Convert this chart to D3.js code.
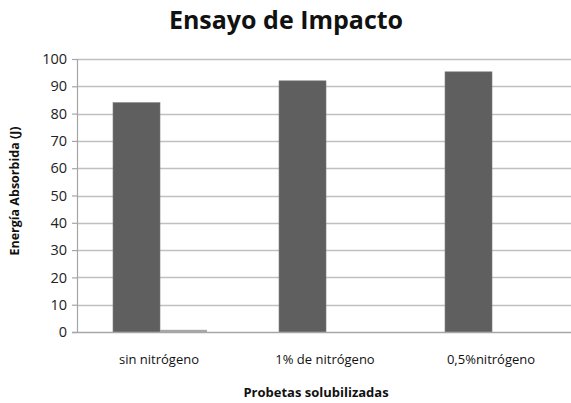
<!DOCTYPE html>
<html>
<head>
<meta charset="utf-8">
<script src="https://cdn.jsdelivr.net/npm/d3@7"></script>
<style>
  body { margin: 0; background: #fff; }
  svg { display: block; font-family: 'Open Sans', sans-serif; }
</style>
</head>
<body>
<div id="chart"></div>
<script>
const categories = ['sin nitrógeno', '1% de nitrógeno', '0,5%nitrógeno'];
const series1 = [84, 92, 95.3];
const series2 = [0.8, 0, 0];
const yTicks = [0, 10, 20, 30, 40, 50, 60, 70, 80, 90, 100];

const svgWidth = 571;
const svgHeight = 403;
const margin = { top: 59, right: -4, bottom: 71, left: 77 };
const width = svgWidth - margin.left - margin.right;
const height = svgHeight - margin.top - margin.bottom;

const svg = d3.select('#chart')
    .append('svg')
    .attr('width', svgWidth)
    .attr('height', svgHeight);

const g = svg.append('g')
    .attr('transform', 'translate(' + margin.left + ',' + margin.top + ')');

const x = d3.scaleBand()
    .domain(categories)
    .range([0, width])
    .paddingInner(0)
    .paddingOuter(0);

const groupPad = 0.217;
const x1 = d3.scaleBand()
    .domain(['s1', 's2'])
    .range([x.bandwidth() * groupPad, x.bandwidth() * (1 - groupPad)]);

const y = d3.scaleLinear()
    .domain([0, 100])
    .range([height, 0]);

// gridlines
g.selectAll('.grid')
    .data(yTicks.slice(1))
    .enter().append('line')
    .attr('class', 'grid')
    .attr('x1', 0)
    .attr('x2', width)
    .attr('y1', d => Math.round(y(d)) + 0.5)
    .attr('y2', d => Math.round(y(d)) + 0.5)
    .attr('stroke', '#c0c0c0')
    .attr('stroke-width', 1.4);

// bars
const groups = g.selectAll('.grp')
    .data(categories)
    .enter().append('g')
    .attr('transform', d => 'translate(' + x(d) + ',0)');

groups.append('rect')
    .attr('x', x1('s1'))
    .attr('y', (d, i) => y(series1[i]))
    .attr('width', x1.bandwidth())
    .attr('height', (d, i) => height - y(series1[i]))
    .attr('fill', '#5f5f5f')
    .attr('stroke', '#7a7a7a')
    .attr('stroke-width', 0.6);

groups.append('rect')
    .attr('x', x1('s2'))
    .attr('y', (d, i) => y(series2[i]))
    .attr('width', x1.bandwidth())
    .attr('height', (d, i) => height - y(series2[i]))
    .attr('fill', '#a6a6a6');

// y axis
const yAxis = g.append('g')
    .call(d3.axisLeft(y).tickValues(yTicks).tickSize(5).tickPadding(5));
yAxis.select('.domain').attr('stroke', '#a6a6a6').attr('stroke-width', 1.2);
yAxis.selectAll('.tick line').attr('stroke', '#a6a6a6').attr('stroke-width', 1.2);
yAxis.selectAll('.tick text')
    .attr('fill', '#222')
    .style('font-size', '14.5px')
    .style('font-family', "'Open Sans', sans-serif");

// x axis baseline
g.append('line')
    .attr('x1', -5)
    .attr('x2', width)
    .attr('y1', height + 0.5)
    .attr('y2', height + 0.5)
    .attr('stroke', '#a6a6a6')
    .attr('stroke-width', 1.5);

// category labels
g.selectAll('.cat')
    .data(categories)
    .enter().append('text')
    .attr('class', 'cat')
    .attr('x', d => x(d) + x.bandwidth() / 2 - 1)
    .attr('y', height + 32)
    .attr('text-anchor', 'middle')
    .style('font-size', '13px')
    .attr('fill', '#111')
    .text(d => d);

// titles
svg.append('text')
    .attr('x', 286)
    .attr('y', 29)
    .attr('text-anchor', 'middle')
    .style('font-size', '25px')
    .style('font-weight', 'bold')
    .attr('fill', '#111')
    .text('Ensayo de Impacto');

svg.append('text')
    .attr('x', 316)
    .attr('y', 397)
    .attr('text-anchor', 'middle')
    .style('font-size', '13px')
    .style('font-weight', 'bold')
    .attr('fill', '#111')
    .text('Probetas solubilizadas');

svg.append('text')
    .attr('transform', 'translate(19,191) rotate(-90)')
    .attr('text-anchor', 'middle')
    .style('font-size', '12.5px')
    .style('font-weight', 'bold')
    .attr('fill', '#111')
    .text('Energía Absorbida (J)');
</script>
</body>
</html>
